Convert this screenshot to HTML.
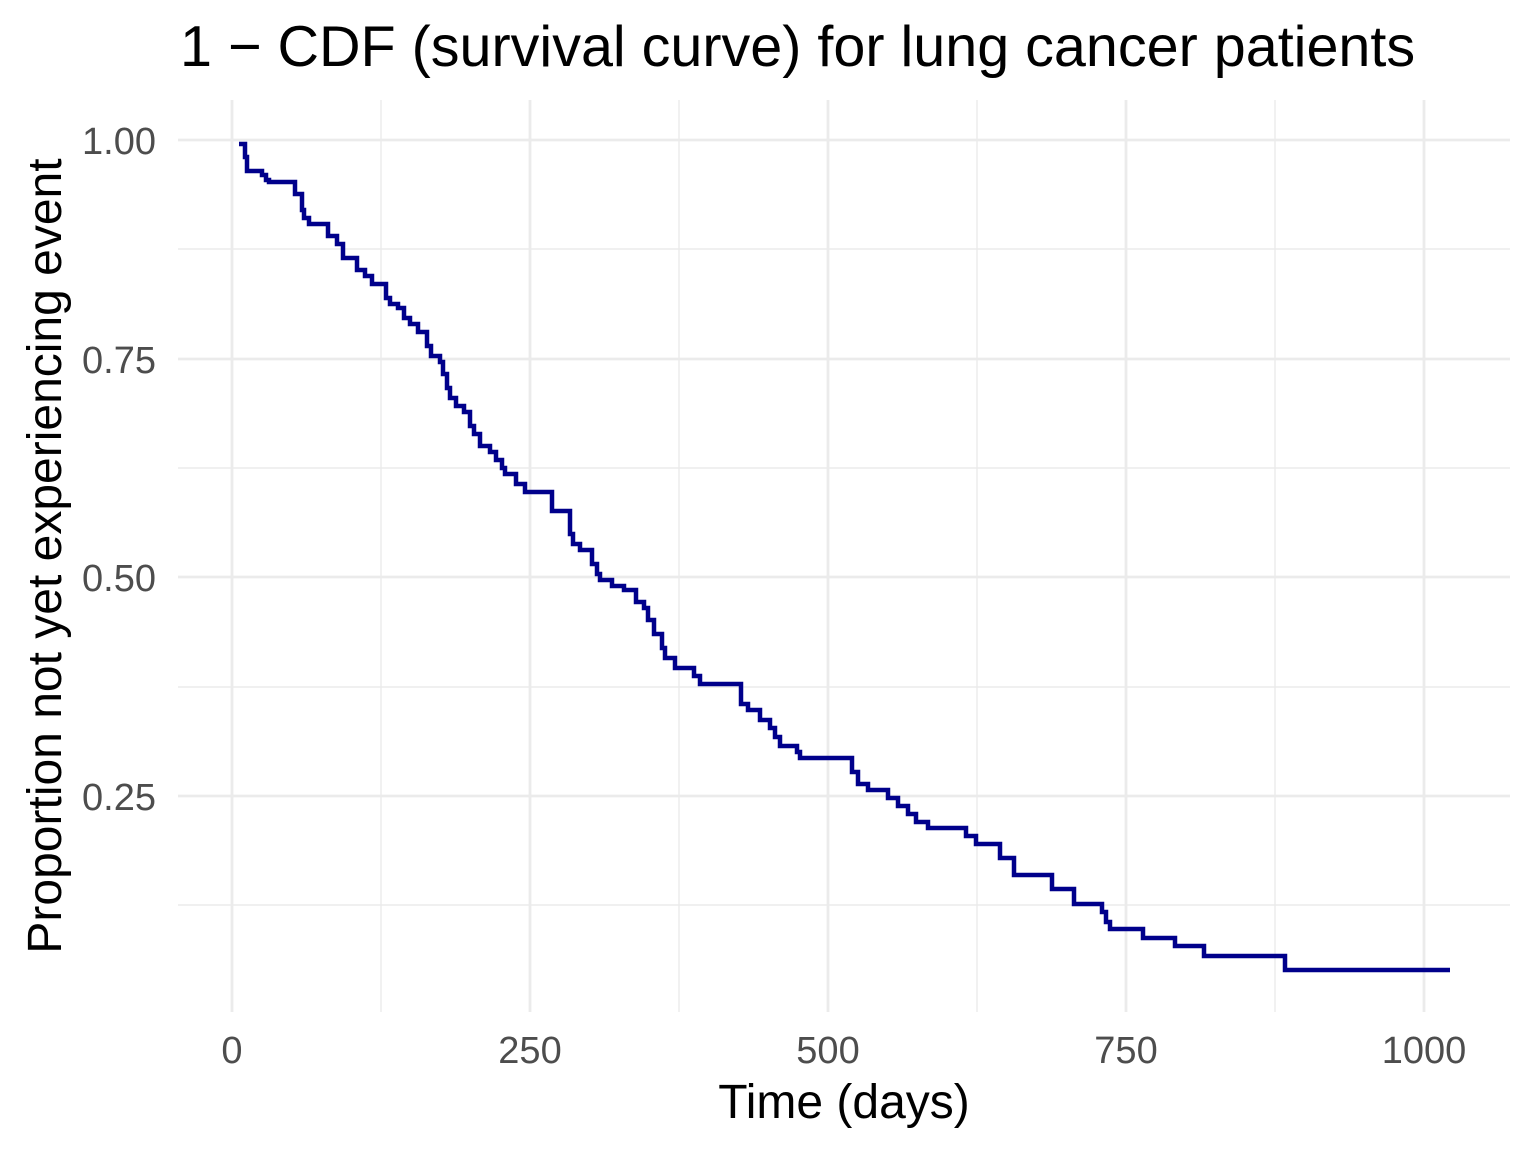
<!DOCTYPE html>
<html><head><meta charset="utf-8"><style>body{margin:0;background:#fff}svg{display:block}</style></head><body>
<svg width="1536" height="1152" xmlns="http://www.w3.org/2000/svg" font-family="Liberation Sans, sans-serif">
<rect width="1536" height="1152" fill="#fff"/>
<g stroke="#ebebeb" stroke-width="1.4">
<line x1="178" x2="1510" y1="249" y2="249"/><line x1="178" x2="1510" y1="468" y2="468"/><line x1="178" x2="1510" y1="687" y2="687"/><line x1="178" x2="1510" y1="905" y2="905"/>
<line x1="381" x2="381" y1="100" y2="1012"/><line x1="679" x2="679" y1="100" y2="1012"/><line x1="977" x2="977" y1="100" y2="1012"/><line x1="1275" x2="1275" y1="100" y2="1012"/>
</g>
<g stroke="#ebebeb" stroke-width="2.8">
<line x1="178" x2="1510" y1="140" y2="140"/><line x1="178" x2="1510" y1="359" y2="359"/><line x1="178" x2="1510" y1="577" y2="577"/><line x1="178" x2="1510" y1="796" y2="796"/>
<line x1="232" x2="232" y1="100" y2="1012"/><line x1="530" x2="530" y1="100" y2="1012"/><line x1="828" x2="828" y1="100" y2="1012"/><line x1="1126" x2="1126" y1="100" y2="1012"/><line x1="1424" x2="1424" y1="100" y2="1012"/>
</g>
<path fill="none" stroke="#00008b" stroke-width="4.5" d="M239,144 H245 V157 H247 V171 H262 V175 H266 V180 H269 V182 H295 V194 H302 V210 H304 V218 H309 V224 H328 V236 H337 V244 H343 V258 H357 V270 H365 V276 H372 V284 H386 V298 H390 V304 H398 V308 H404 V318 H410 V324 H418 V332 H427 V346 H431 V356 H440 V362 H443 V374 H447 V388 H450 V398 H456 V406 H464 V412 H470 V426 H474 V434 H480 V446 H490 V452 H496 V460 H502 V468 H505 V474 H516 V484 H525 V492 H552 V511 H570 V534 H573 V544 H580 V550 H592 V564 H597 V574 H600 V580 H612 V586 H624 V590 H636 V602 H644 V608 H648 V620 H654 V634 H662 V648 H665 V658 H675 V668 H694 V676 H700 V684 H741 V704 H748 V710 H760 V720 H770 V728 H775 V737 H780 V746 H797 V752 H800 V758 H852 V772 H858 V784 H868 V790 H888 V798 H898 V806 H908 V814 H916 V822 H928 V828 H966 V836 H976 V844 H1000 V858 H1014 V875 H1052 V889 H1074 V904 H1102 V912 H1106 V922 H1110 V929 H1143 V938 H1175 V946 H1204 V956 H1285 V970 H1450"/>
<g fill="#4d4d4d" font-size="38" text-anchor="end">
<text x="156" y="154">1.00</text><text x="156" y="373">0.75</text><text x="156" y="591">0.50</text><text x="156" y="810">0.25</text>
</g>
<g fill="#4d4d4d" font-size="38" text-anchor="middle">
<text x="232" y="1063">0</text><text x="530" y="1063">250</text><text x="828" y="1063">500</text><text x="1126" y="1063">750</text><text x="1424" y="1063">1000</text>
</g>
<text x="844" y="1118" font-size="48" text-anchor="middle" fill="#000">Time (days)</text>
<text transform="translate(61,556) rotate(-90)" font-size="48" text-anchor="middle" fill="#000">Proportion not yet experiencing event</text>
<text x="180" y="66" font-size="57.5" fill="#000">1 − CDF (survival curve) for lung cancer patients</text>
</svg>
</body></html>
